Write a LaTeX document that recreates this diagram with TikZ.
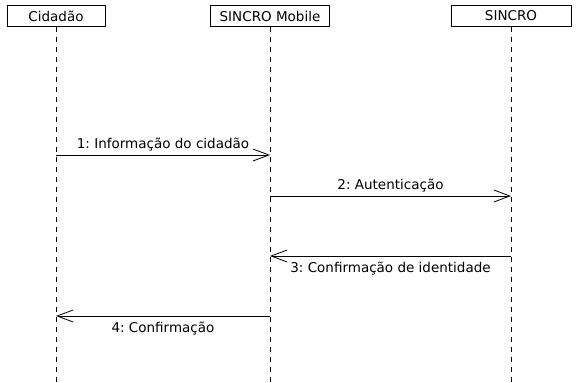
\documentclass[tikz,border=0pt]{standalone}
\usepackage{fontspec}
\setmainfont{DejaVu Sans}
\usepackage{tikz}
\usetikzlibrary{positioning, arrows.meta}
\frenchspacing

\begin{document}
\begin{tikzpicture}[
  x=1pt, y=-1pt,
  actor/.style={draw, line width=0.8pt, minimum height=21pt,
                inner xsep=8pt, font=\fontsize{13.5}{15}\selectfont},
  lifeline/.style={line width=0.8pt, dash pattern=on 5pt off 5pt},
  msg/.style={-{Straight Barb[length=16pt, width=12pt, line width=0.8pt]}, line width=0.8pt},
  lbl/.style={font=\fontsize{13.5}{15}\selectfont, inner sep=2pt},
]
  \useasboundingbox (0,0) rectangle (577,382);

  % Participants
  \node[actor, minimum width=98pt] (cid) at (56,16) {Cidadão};
  \node[actor, minimum width=119pt] (mob) at (270,16) {SINCRO Mobile};
  \node[actor, minimum width=120pt] (sin) at (511,16) {SINCRO};

  % Lifelines
  \coordinate (cidend) at (56,382);
  \coordinate (mobend) at (270,382);
  \coordinate (sinend) at (511,382);
  \draw[lifeline] (cid.south) -- (cidend);
  \draw[lifeline] (mob.south) -- (mobend);
  \draw[lifeline] (sin.south) -- (sinend);

  % Message points
  \coordinate (m1a) at (56,155);  \coordinate (m1b) at (270,155);
  \coordinate (m2a) at (270,196); \coordinate (m2b) at (511,196);
  \coordinate (m3a) at (511,256); \coordinate (m3b) at (270,256);
  \coordinate (m4a) at (270,316); \coordinate (m4b) at (56,316);

  % Messages
  \draw[msg] (m1a) -- node[lbl, above=1pt] {1: Informação do cidadão} (m1b);
  \draw[msg] (m2a) -- node[lbl, above=1pt] {2: Autenticação} (m2b);
  \draw[msg] (m3a) -- node[lbl, below=4pt] {3: Confirmação de identidade} (m3b);
  \draw[msg] (m4a) -- node[lbl, below=4pt] {4: Confirmação} (m4b);
\end{tikzpicture}
\end{document}
